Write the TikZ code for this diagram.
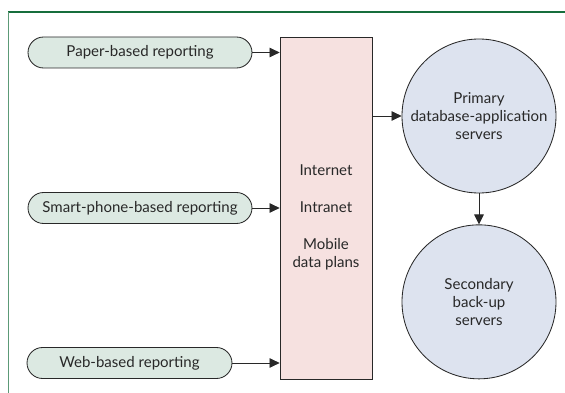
\documentclass[tikz,border=0pt]{standalone}
\usepackage{fontspec}
\setmainfont{Lato}
\usepackage{xcolor}
\usepackage{tikz}
\usetikzlibrary{calc,positioning,arrows.meta}

\definecolor{framegreen}{RGB}{22,110,60}
\definecolor{inkgray}{RGB}{40,40,40}
\definecolor{pillfill}{RGB}{220,233,226}
\definecolor{netfill}{RGB}{246,225,224}
\definecolor{srvfill}{RGB}{221,227,239}

\begin{document}
\begin{tikzpicture}[
            x=0.25mm, y=0.25mm,
            font=\fontsize{10.7}{12.8}\selectfont, text=inkgray,
            source/.style={draw=inkgray, fill=pillfill, line width=0.6pt, rounded corners=3.9mm,
                           minimum height=7.75mm, inner sep=0},
            network/.style={draw=inkgray, fill=netfill, line width=0.6pt,
                            minimum width=23mm, minimum height=85.5mm, inner sep=0},
            server/.style={circle, draw=inkgray, fill=srvfill, line width=0.6pt,
                           minimum size=38.5mm, inner sep=0, align=center},
            flow/.style={draw=inkgray, line width=0.6pt, -{Triangle[length=2.5mm,width=2.4mm]}},
          ]
          \useasboundingbox (0,0) rectangle (565,393);

          % --- frame: rule on top and on the left ---
          \draw[framegreen, line width=0.9pt] (8,381) -- (565,381);
          \draw[framegreen!70, line width=0.6pt] (8,381) -- (8,0);

          % --- reporting channels ---
          \node[source, minimum width=56mm] (paper) at (140,340.5) {Paper-based reporting};
          \node[source, minimum width=56mm] (phone) at (140,185) {Smart-phone-based reporting};
          \node[source, minimum width=51.25mm] (web) at (129.5,30) {Web-based reporting};

          % --- transport networks ---
          \node[network] (net) at (326,185) {};
          \node[align=center] (nettext) at ($(net.center)+(0,-9)$)
            {Internet\\[13.5pt]Intranet\\[13.5pt]Mobile\\data plans};

          % --- servers ---
          \node[server] (primary) at (479,277) {Primary\\database-application\\servers};
          \node[server, below=7.75mm of primary] (backup) {Secondary\\back-up\\servers};

          % --- connectors ---
          \draw[flow] (paper.east) -- (paper.east -| net.west);
          \draw[flow] (phone.east) -- (phone.east -| net.west);
          \draw[flow] (web.east) -- (web.east -| net.west);
          \draw[flow] (net.east |- primary.west) -- (primary.west);
          \draw[flow] (primary.south) -- (backup.north);
        \end{tikzpicture}
\end{document}
